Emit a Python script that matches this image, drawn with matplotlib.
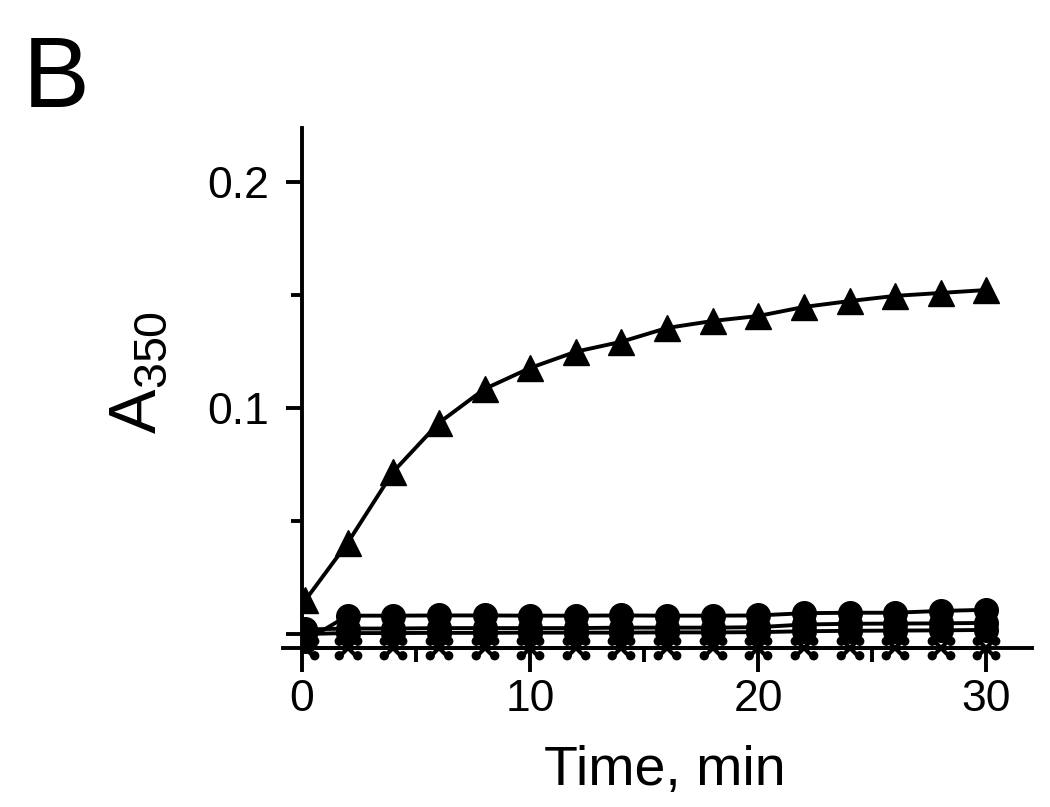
import numpy as np
import matplotlib
matplotlib.use('Agg')
import matplotlib.pyplot as plt
from matplotlib.path import Path

plt.rcParams['font.family'] = ['Liberation Sans', 'DejaVu Sans']
plt.rcParams['mathtext.fontset'] = 'custom'
plt.rcParams['mathtext.rm'] = 'Liberation Sans'

# time points (min)
time = [0.15, 2, 4, 6, 8, 10, 12, 14, 16, 18, 20, 22, 24, 26, 28, 30]

# A350 readings
triangles = [0.015, 0.0403, 0.0718, 0.0934, 0.1084, 0.1177, 0.1249, 0.1293,
             0.1354, 0.1385, 0.1407, 0.1447, 0.1473, 0.1496, 0.1509, 0.1522]
circles_top = [-0.003, 0.0081, 0.0081, 0.0082, 0.0082, 0.0081, 0.0081, 0.0082,
               0.0081, 0.0081, 0.0082, 0.0092, 0.0094, 0.0094, 0.0102, 0.0107]
circles_mid = [0.002, 0.0024, 0.0024, 0.0026, 0.0026, 0.0026, 0.0026, 0.0028,
               0.0028, 0.0028, 0.0030, 0.0042, 0.0045, 0.0046, 0.0047, 0.0049]
circles_low = [0.0, 0.0004, 0.0004, 0.0005, 0.0005, 0.0006, 0.0006, 0.0006,
               0.0007, 0.0007, 0.0008, 0.0012, 0.0014, 0.0015, 0.0016, 0.0018]
stars = [-0.0064] * 16

xticks = [0, 10, 20, 30]
yticks = [0.0, 0.1, 0.2]
ytick_labels = ['', '0.1', '0.2']

# four-petal marker for the bottom series
petals = Path.make_compound_path(*[Path.circle((dx, dy), 0.3)
                                   for dx in (-0.7, 0.7) for dy in (-0.55, 0.55)])

fig = plt.figure(figsize=(10.5, 8.07), dpi=100)
ax = fig.add_axes([302 / 1050, 0.1584, 730 / 1050, 0.6833])

lw = 2.8
ax.plot(time, stars, color='black', lw=lw, marker='x', ms=12, mew=3.0, zorder=2)
ax.plot(time, stars, color='none', marker=petals, ms=19, mfc='black', mec='black', zorder=2)
ax.plot(time, circles_low, color='black', lw=lw, marker='o', ms=17, zorder=3)
ax.plot(time, circles_mid, color='black', lw=lw, marker='o', ms=17, zorder=3)
ax.plot(time, circles_top, color='black', lw=lw, marker='o', ms=17, zorder=3)
ax.plot(time, triangles, color='black', lw=lw, marker='^', ms=19, zorder=4)

ax.set_xlim(0, 32)
ax.set_ylim(-0.02, 0.224)

for side in ['top', 'right']:
    ax.spines[side].set_visible(False)
ax.spines['left'].set_position(('data', 0))
ax.spines['bottom'].set_position(('data', -0.0064))
ax.spines['left'].set_bounds(-0.0064, 0.224)
ax.spines['bottom'].set_bounds(-0.83, 32)
ax.spines['left'].set_linewidth(2.8)
ax.spines['bottom'].set_linewidth(2.8)

ax.set_xticks(xticks)
ax.set_xticks([5, 15, 25], minor=True)
ax.set_yticks(yticks)
ax.set_yticklabels(ytick_labels)
ax.set_yticks([0.05, 0.15], minor=True)

ax.tick_params(axis='x', which='major', direction='out', length=17, width=2.8, labelsize=32, pad=5)
ax.tick_params(axis='x', which='minor', direction='out', length=10, width=2.8)
ax.tick_params(axis='y', which='major', direction='out', length=11.5, width=2.8, labelsize=32, pad=12)
ax.tick_params(axis='y', which='minor', direction='out', length=8, width=2.8)

ax.set_xlabel('Time, min', fontsize=40)
ax.xaxis.set_label_coords(0.497, -0.12)
ax.set_ylabel(r'$\mathrm{A}_{350}$', fontsize=48)
ax.yaxis.set_label_coords(-0.181, 0.557)

fig.text(23 / 1050, (807 - 107) / 807, 'B', fontsize=72, va='baseline', ha='left')

plt.savefig('out.png', dpi=100)
